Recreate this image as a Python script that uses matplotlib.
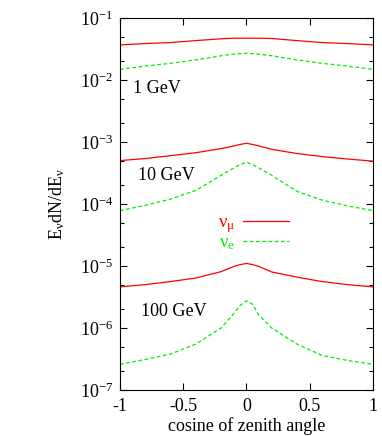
import numpy as np
import matplotlib
matplotlib.use("Agg")
import matplotlib.pyplot as plt
from matplotlib.ticker import LogLocator, NullFormatter

plt.rcParams['font.family'] = ['Liberation Serif', 'DejaVu Serif']
plt.rcParams['mathtext.fontset'] = 'custom'
plt.rcParams['mathtext.rm'] = 'Liberation Serif'
plt.rcParams['mathtext.it'] = 'Liberation Serif:italic'

# cosine of zenith angle
cos_z = [-1, -0.8, -0.6, -0.4, -0.2, -0.1, -0.05, 0, 0.05, 0.1, 0.2, 0.4, 0.6, 0.8, 1]

# E dN/dE
numu_1 = [0.0367, 0.0385, 0.040, 0.043, 0.046, 0.047, 0.047, 0.047, 0.047, 0.047, 0.0465, 0.043, 0.040, 0.0385, 0.0367]
nue_1 = [0.0148, 0.0167, 0.0185, 0.021, 0.0245, 0.026, 0.0265, 0.027, 0.0265, 0.026, 0.0245, 0.021, 0.0185, 0.0167, 0.0148]
numu_10 = [5.0e-4, 5.4e-4, 6.0e-4, 6.7e-4, 7.8e-4, 8.6e-4, 9.1e-4, 9.5e-4, 9.1e-4, 8.6e-4, 7.6e-4, 6.5e-4, 5.8e-4, 5.3e-4, 4.9e-4]
nue_10 = [7.8e-5, 9.5e-5, 1.2e-4, 1.65e-4, 2.9e-4, 3.8e-4, 4.3e-4, 4.7e-4, 4.3e-4, 3.8e-4, 2.9e-4, 1.6e-4, 1.15e-4, 9.3e-5, 7.8e-5]
numu_100 = [4.6e-6, 5.0e-6, 5.6e-6, 6.4e-6, 8.1e-6, 9.8e-6, 1.05e-5, 1.1e-5, 1.05e-5, 9.8e-6, 8.0e-6, 6.6e-6, 5.6e-6, 5.0e-6, 4.6e-6]
nue_100 = [2.6e-7, 3.1e-7, 3.8e-7, 5.5e-7, 1.0e-6, 1.7e-6, 2.3e-6, 2.75e-6, 2.4e-6, 1.6e-6, 1.0e-6, 5.5e-7, 3.6e-7, 3.0e-7, 2.6e-7]

energy_labels = ["1 GeV", "10 GeV", "100 GeV"]

fig = plt.figure(figsize=(3.82, 4.36), dpi=100)
ax = fig.add_axes([0.314, 0.1055, 0.662, 0.8535])

lw = 0.9
red, green = '#ff0000', '#00ee00'
dash = (0, (3, 2))
ax.plot(cos_z, numu_1, color=red, lw=lw, label=r'$\mathrm{ν_μ}$')
ax.plot(cos_z, nue_1, color=green, lw=lw, ls=dash, label=r'$\mathrm{ν_e}$')
ax.plot(cos_z, numu_10, color=red, lw=lw)
ax.plot(cos_z, nue_10, color=green, lw=lw, ls=dash)
ax.plot(cos_z, numu_100, color=red, lw=lw)
ax.plot(cos_z, nue_100, color=green, lw=lw, ls=dash)

ax.set_yscale('log')
ax.set_xlim(-1, 1)
ax.set_ylim(1e-7, 1e-1)
ax.set_xticks([-1, -0.5, 0, 0.5, 1])
ax.set_xticklabels(['-1', '-0.5', '0', '0.5', '1'])
ax.yaxis.set_major_locator(LogLocator(base=10, numticks=10))
ax.yaxis.set_minor_locator(LogLocator(base=10, subs=[2, 5], numticks=20))
ax.yaxis.set_minor_formatter(NullFormatter())
ax.tick_params(which='both', direction='in', top=True, right=True, labelsize=13)
ax.tick_params(which='major', length=5, width=0.8)
ax.tick_params(which='minor', length=3, width=0.8)
ax.tick_params(axis='x', pad=6)
ax.tick_params(axis='y', pad=5)

ax.text(-0.9, 6.2e-3, energy_labels[0], fontsize=13)
ax.text(-0.86, 2.45e-4, energy_labels[1], fontsize=13)
ax.text(-0.83, 1.55e-6, energy_labels[2], fontsize=13)

ax.set_xlabel('cosine of zenith angle', fontsize=13, labelpad=1)
ax.set_ylabel(r'E$_\mathrm{ν}$dN/dE$_\mathrm{ν}$', fontsize=13, labelpad=9)

leg = ax.legend(loc='upper left', bbox_to_anchor=(0.352, 0.497), frameon=False,
                markerfirst=False, handlelength=2.45, fontsize=13.5,
                labelspacing=-0.05, handletextpad=0.4, borderpad=0)
for txt, c in zip(leg.get_texts(), [red, green]):
    txt.set_color(c)

for s in ax.spines.values():
    s.set_linewidth(0.8)

fig.savefig('out.png', dpi=100)
